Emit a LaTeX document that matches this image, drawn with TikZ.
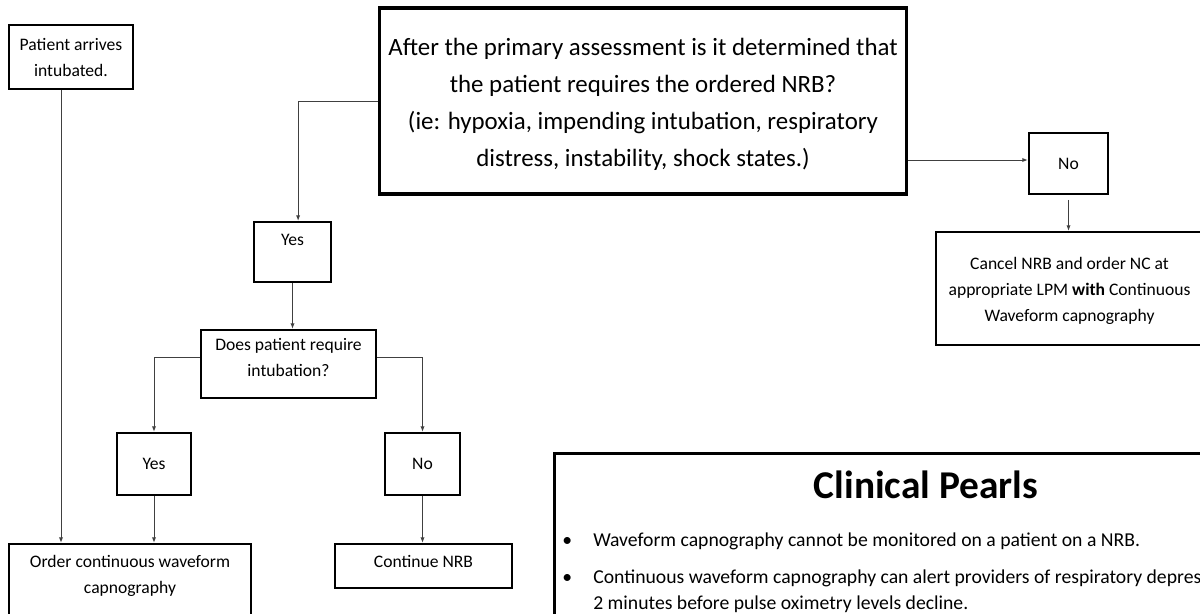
\documentclass[tikz,border=0pt]{standalone}
\usepackage{fontspec}
\setmainfont{Carlito}
\usetikzlibrary{arrows.meta, positioning}

\newcommand{\smalltxt}{\fontsize{12.5}{18.5}\selectfont}
\newcommand{\bigtxt}{\fontsize{17.7}{26.3}\selectfont}
% extra depth lifts the text, extra height drops it
\newcommand{\lift}[1]{\rule[-#1]{0pt}{0pt}}
\newcommand{\sink}[1]{\rule{0pt}{#1}}

\tikzset{
  box/.style={rectangle, draw=black, line width=1.5pt, align=center, inner sep=0pt, font=\smalltxt},
  bigbox/.style={box, line width=2.2pt, font=\bigtxt},
  arrow/.style={draw=black!75, line width=0.7pt, -{Latex[length=4pt,width=3pt]}},
  pearl/.style={anchor=base west, inner sep=0pt, font=\fontsize{14}{18.5}\selectfont}
}

\begin{document}
\begin{tikzpicture}[x=0.025cm, y=-0.025cm]
\clip (0,0) rectangle (1200,613);

% boxes
\node (arrives) [box, minimum width=3.1cm, minimum height=1.6cm] at (71,57) {Patient arrives\\intubated.};
\node (question) [bigbox, minimum width=13.15cm, minimum height=4.65cm] at (643,101)
  {\sink{0.6cm}After the primary assessment is it determined that\\the patient requires the ordered NRB?\\(ie: hypoxia, impending intubation, respiratory\\distress, instability, shock states.)};
\node (yes1) [box, minimum width=1.925cm, minimum height=1.5cm] at (292.5,252) {Yes\lift{0.6cm}};
\node (does) [box, minimum width=4.375cm, minimum height=1.7cm] at (288.5,364) {Does patient require\\intubation?\lift{0.35cm}};
\node (yes2) [box, minimum width=1.85cm, minimum height=1.55cm] at (154,464) {Yes};
\node (no2) [box, minimum width=1.875cm, minimum height=1.55cm] at (422.5,464) {No};
\node (order) [box, minimum width=6.05cm, minimum height=2.15cm] at (130,587) {Order continuous waveform\\capnography\lift{0.65cm}};
\node (cont) [box, minimum width=4.425cm, minimum height=1.1cm] at (423.5,566) {Continue NRB\lift{0.25cm}};
\node (no1) [box, minimum width=1.975cm, minimum height=1.525cm] at (1068.5,163.5) {No};
\node (cancel) [box, minimum width=6.675cm, minimum height=2.825cm] at (1069.5,288.5)
  {\sink{0.42cm}Cancel NRB and order NC at\\appropriate LPM \textbf{with} Continuous\\Waveform capnography};

% clinical pearls
\node (pearls) [box, line width=2pt, anchor=north west, minimum width=18.65cm, minimum height=7.5cm] at (553,452) {};
\node (title) [font=\bfseries\fontsize{28}{30}\selectfont, inner sep=0pt] at (926,485) {Clinical Pearls};
\node (dot1) [pearl] at (562,546) {\textbullet};
\node (pearl1) [pearl] at (593,546) {Waveform capnography cannot be monitored on a patient on a NRB.};
\node (dot2) [pearl] at (562,583) {\textbullet};
\node (pearl2) [pearl] at (593,583) {Continuous waveform capnography can alert providers of respiratory depression};
\node (pearl2b) [pearl] at (593,609) {2 minutes before pulse oximetry levels decline.};

% connectors
\draw [arrow] ([xshift=-0.25cm]arrives.south) -- ([xshift=-0.25cm]arrives.south |- order.north);
\draw [arrow] (question.west |- 0,101) -| ([xshift=0.14cm]yes1.north);
\draw [arrow] (yes1.south) -- (yes1 |- does.north);
\draw [arrow] ([yshift=0.175cm]does.west) -| (yes2.north);
\draw [arrow] ([yshift=0.175cm]does.east) -| (no2.north);
\draw [arrow] (yes2.south) -- (yes2 |- order.north);
\draw [arrow] (no2.south) -- (no2 |- cont.north);
\draw [arrow] (question.east |- 0,160) -- (no1.west |- 0,160);
\draw [arrow, shorten <=0.12cm] (no1.south) -- (no1 |- cancel.north);
\end{tikzpicture}
\end{document}
